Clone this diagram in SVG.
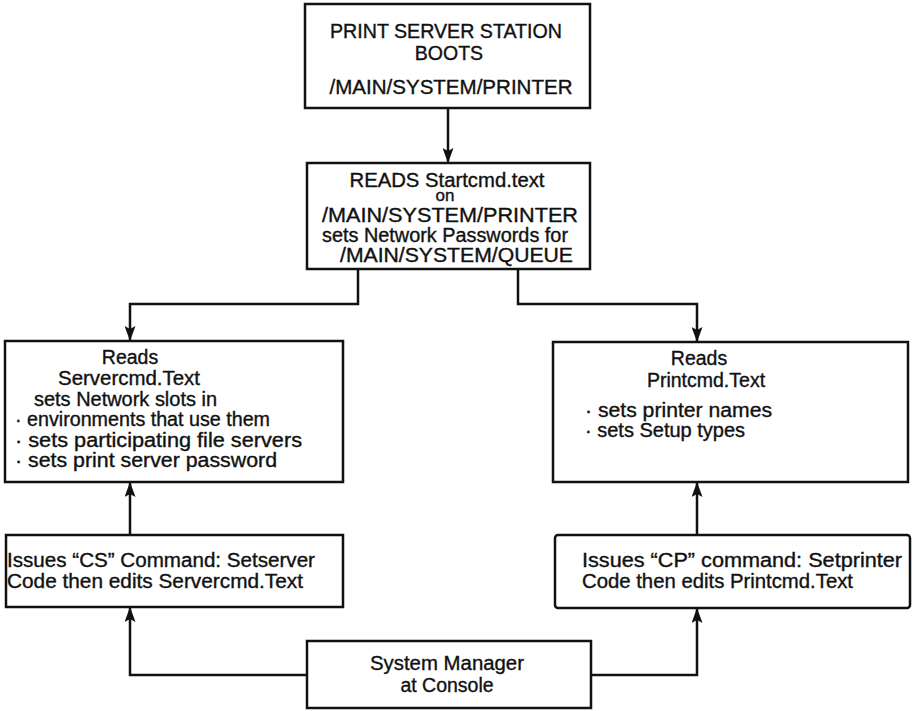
<svg xmlns="http://www.w3.org/2000/svg" width="914" height="711" viewBox="0 0 914 711">
<style>
.box{fill:#fff;stroke:#111;stroke-width:2.5}
.t{font-family:"Liberation Sans",Arial,Helvetica,sans-serif;font-size:19.5px;fill:#111;stroke:#111;stroke-width:0.35}
.c{text-anchor:middle}
.ln{fill:none;stroke:#111;stroke-width:2.5}
</style>
<defs>
<marker id="arr" markerUnits="userSpaceOnUse" markerWidth="15" markerHeight="11" refX="15" refY="5.5" orient="auto" viewBox="0 0 15 11">
<path d="M0,0 L15,5.5 L0,11 L3,5.5 z" fill="#111"/>
</marker>
</defs>
<rect width="914" height="711" fill="#fff"/>
<g id="connectors">
<path class="ln" d="M448,108 V163" marker-end="url(#arr)"/>
<path class="ln" d="M358,269 V304 H130 V341" marker-end="url(#arr)"/>
<path class="ln" d="M518,269 V304 H697 V342" marker-end="url(#arr)"/>
<path class="ln" d="M130,535 V482" marker-end="url(#arr)"/>
<path class="ln" d="M697,535 V482" marker-end="url(#arr)"/>
<path class="ln" d="M307,675 H130 V607" marker-end="url(#arr)"/>
<path class="ln" d="M591,675 H697 V608" marker-end="url(#arr)"/>
</g>
<g id="boot">
<rect class="box" x="305" y="4" width="285" height="104"/>
<text class="t c" x="446" y="38" textLength="232" lengthAdjust="spacingAndGlyphs">PRINT SERVER STATION</text>
<text class="t c" x="449" y="60">BOOTS</text>
<text class="t c" x="451" y="94" textLength="243" lengthAdjust="spacingAndGlyphs">/MAIN/SYSTEM/PRINTER</text>
</g>
<g id="startcmd">
<rect class="box" x="307" y="163" width="283" height="106"/>
<text class="t c" x="447" y="187" textLength="195" lengthAdjust="spacingAndGlyphs">READS Startcmd.text</text>
<text class="t c" x="445" y="201" style="font-size:17px">on</text>
<text class="t" x="322" y="222" textLength="256" lengthAdjust="spacingAndGlyphs">/MAIN/SYSTEM/PRINTER</text>
<text class="t" x="322" y="242" textLength="246" lengthAdjust="spacingAndGlyphs">sets Network Passwords for</text>
<text class="t" x="340" y="262" textLength="233" lengthAdjust="spacingAndGlyphs">/MAIN/SYSTEM/QUEUE</text>
</g>
<g id="servercmd">
<rect class="box" x="5" y="341" width="338" height="141"/>
<text class="t c" x="130" y="364">Reads</text>
<text class="t c" x="129" y="385" textLength="142" lengthAdjust="spacingAndGlyphs">Servercmd.Text</text>
<text class="t" x="34" y="406" textLength="183" lengthAdjust="spacingAndGlyphs">sets Network slots in</text>
<text class="t" x="15" y="426" textLength="255" lengthAdjust="spacingAndGlyphs">· environments  that use them</text>
<text class="t" x="15" y="447" textLength="287" lengthAdjust="spacingAndGlyphs">· sets participating file servers</text>
<text class="t" x="15" y="467" textLength="262" lengthAdjust="spacingAndGlyphs">· sets print server password</text>
</g>
<g id="printcmd">
<rect class="box" x="553" y="342" width="355" height="140"/>
<text class="t c" x="699" y="365">Reads</text>
<text class="t c" x="706" y="387">Printcmd.Text</text>
<text class="t" x="585" y="417" textLength="187" lengthAdjust="spacingAndGlyphs">· sets printer names</text>
<text class="t" x="585" y="437" textLength="160" lengthAdjust="spacingAndGlyphs">· sets Setup types</text>
</g>
<g id="cs">
<rect class="box" x="6" y="535" width="337" height="72"/>
<text class="t" x="7" y="567" textLength="308" lengthAdjust="spacingAndGlyphs">Issues “CS” Command: Setserver</text>
<text class="t" x="7" y="588" textLength="296" lengthAdjust="spacingAndGlyphs">Code  then edits Servercmd.Text</text>
</g>
<g id="cp">
<rect class="box" x="555" y="535" width="355" height="73" rx="3"/>
<text class="t" x="582" y="567" textLength="320" lengthAdjust="spacingAndGlyphs">Issues “CP” command: Setprinter</text>
<text class="t" x="582" y="588" textLength="271" lengthAdjust="spacingAndGlyphs">Code then edits Printcmd.Text</text>
</g>
<g id="manager">
<rect class="box" x="307" y="641" width="284" height="67"/>
<text class="t c" x="447" y="670" textLength="154" lengthAdjust="spacingAndGlyphs">System Manager</text>
<text class="t c" x="447" y="692">at Console</text>
</g>
</svg>
